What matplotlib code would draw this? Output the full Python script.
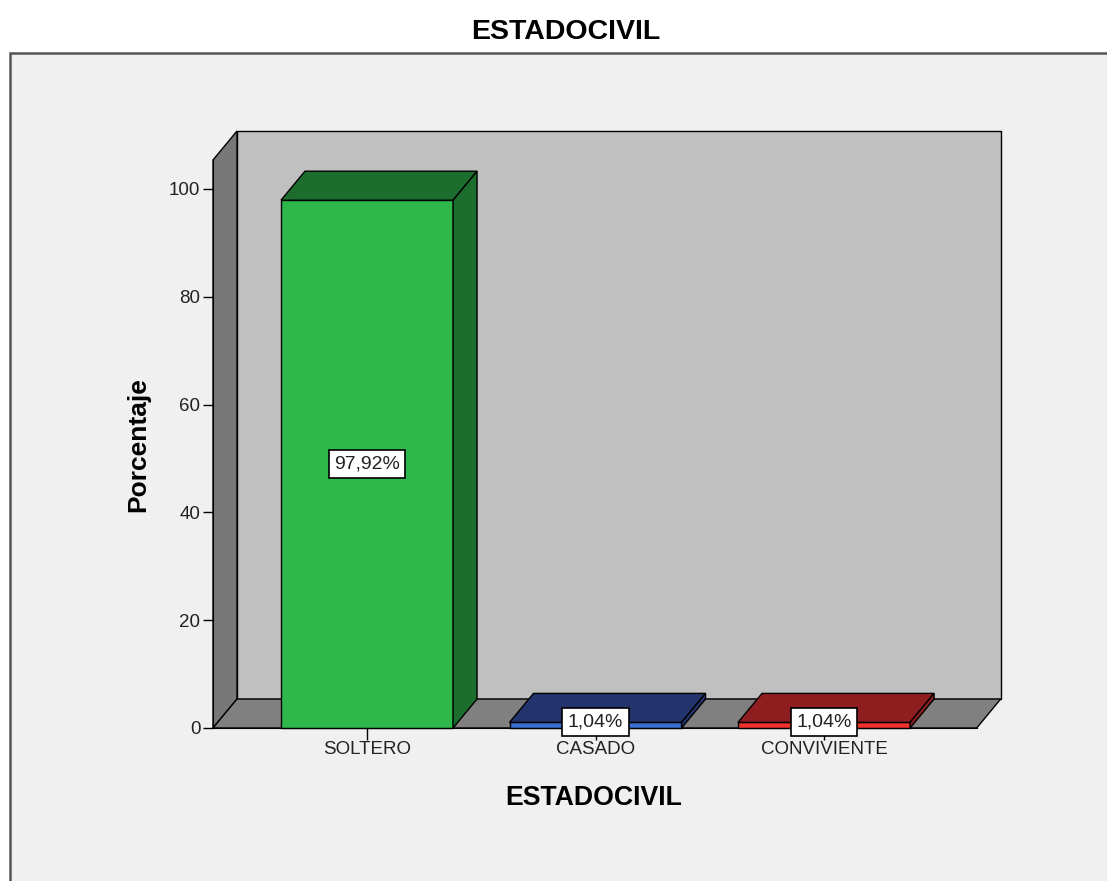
import matplotlib.pyplot as plt
from matplotlib.patches import Polygon, Rectangle

categorias = ['SOLTERO', 'CASADO', 'CONVIVIENTE']
porcentajes = [97.92, 1.04, 1.04]
etiquetas = ['97,92%', '1,04%', '1,04%']
y_ticks = [0, 20, 40, 60, 80, 100]

col_frente = ['#2EB84B', '#3A6ED2', '#F0322D']
col_oscuro = ['#1D6E2E', '#23346C', '#8F1E21']

plt.rcParams['font.family'] = ['Liberation Sans', 'DejaVu Sans']

W, H = 1107, 881
fig = plt.figure(figsize=(W / 100, H / 100), dpi=100)
fig.patch.set_facecolor('white')

# panel gris de fondo
panel = Rectangle((10 / W, -0.01), 1.0, (H - 53) / H + 0.01, transform=fig.transFigure,
                  facecolor='#F0F0F0', edgecolor='#555555', lw=1.8, zorder=0)
fig.add_artist(panel)

# geometria de la caja 3D (unidades de datos)
x0 = -0.674          # borde frontal izquierdo
x1 = 2.773           # borde trasero derecho
ytop = 110.76
ddx = 0.105          # profundidad en x
ddy = 5.38           # profundidad en y
xf = x1 - ddx        # borde frontal derecho
ancho = 0.753

ax = fig.add_axes([213 / W, (H - 728) / H, (1000.7 - 213) / W, 597 / H])
ax.set_xlim(x0, x1)
ax.set_ylim(0, ytop)
ax.set_facecolor('none')

def poly(pts, fc, z=1):
    ax.add_patch(Polygon(pts, closed=True, facecolor=fc, edgecolor='black',
                         lw=1.0, zorder=z, clip_on=False))

# pared trasera, pared izquierda, piso
poly([(x0 + ddx, ddy), (x1, ddy), (x1, ytop), (x0 + ddx, ytop)], '#C0C0C0')
poly([(x0, 0), (x0 + ddx, ddy), (x0 + ddx, ytop), (x0, ytop - ddy)], '#787878')
poly([(x0, 0), (xf, 0), (x1, ddy), (x0 + ddx, ddy)], '#808080')

# barras
for i, v in enumerate(porcentajes):
    l, r = i - ancho / 2, i + ancho / 2
    poly([(l, 0), (r, 0), (r, v), (l, v)], col_frente[i], 2)
    poly([(l, v), (r, v), (r + ddx, v + ddy), (l + ddx, v + ddy)], col_oscuro[i], 2)
    poly([(r, 0), (r + ddx, ddy), (r + ddx, v + ddy), (r, v)], col_oscuro[i], 2)
    ax.text(i, max(v / 2, 1.1), etiquetas[i], ha='center', va='center', fontsize=14,
            color='#222222', zorder=5,
            bbox=dict(boxstyle='square,pad=0.28', facecolor='white', edgecolor='black', lw=1.2))

# ejes
for s in ['top', 'right']:
    ax.spines[s].set_visible(False)
ax.spines['left'].set_bounds(0, ytop - ddy)
ax.spines['bottom'].set_bounds(x0, xf)
ax.spines['left'].set_zorder(3)
ax.spines['bottom'].set_zorder(3)

ax.set_yticks(y_ticks)
ax.set_yticklabels([str(t) for t in y_ticks])
ax.set_xticks(range(len(categorias)))
ax.set_xticklabels(categorias)
ax.tick_params(axis='y', length=7.5, width=1, pad=1.5, labelsize=13.5, labelcolor='#222222')
ax.tick_params(axis='x', length=8.5, width=1, pad=1, labelsize=13.5, labelcolor='#222222')

ax.set_ylabel('Porcentaje', fontsize=19, fontweight='bold')
ax.yaxis.set_label_coords(-0.080, 0.474)
ax.set_xlabel('ESTADOCIVIL', fontsize=19.2, fontweight='bold', va='top')
ax.xaxis.set_label_coords(0.4837, -0.0955)

fig.text(566 / W, 1 - 32 / H, 'ESTADOCIVIL', ha='center', va='center',
         fontsize=20.5, fontweight='bold')

fig.savefig('out.png', dpi=100)
